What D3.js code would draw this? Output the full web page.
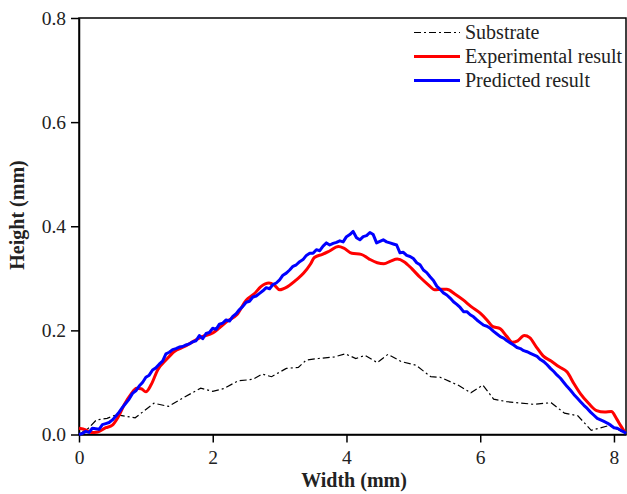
<!DOCTYPE html>
<html><head><meta charset="utf-8">
<script src="https://cdn.jsdelivr.net/npm/d3@7"></script>
<style>body{margin:0;background:#fff}svg{display:block}</style>
</head><body><svg id="c" width="627" height="494"></svg>
<script>
const xTicks=[0,2,4,6,8];
const yTicks=[0.0,0.2,0.4,0.6,0.8];
const seriesNames=["Substrate","Experimental result","Predicted result"];
const substrateX=[0.00,0.14,0.26,0.42,0.56,0.84,1.12,1.34,1.58,1.82,2.00,2.16,2.38,2.60,2.74,2.88,3.10,3.28,3.40,3.58,3.82,3.98,4.14,4.28,4.46,4.62,4.82,5.04,5.26,5.40,5.68,5.86,6.04,6.20,6.40,6.80,7.06,7.26,7.46,7.66,7.92,8.05,8.18];
const substrateY=[0.000,0.012,0.028,0.031,0.038,0.032,0.060,0.054,0.072,0.089,0.083,0.088,0.103,0.106,0.116,0.111,0.127,0.129,0.143,0.146,0.149,0.155,0.146,0.152,0.138,0.154,0.140,0.133,0.111,0.110,0.094,0.080,0.095,0.068,0.063,0.058,0.061,0.041,0.036,0.008,0.017,0.010,0.003];
const expX=[0.00,0.10,0.18,0.28,0.40,0.50,0.58,0.68,0.78,0.86,0.93,1.00,1.08,1.18,1.30,1.42,1.58,1.70,1.84,2.00,2.10,2.22,2.36,2.50,2.62,2.72,2.84,2.92,3.00,3.12,3.26,3.36,3.46,3.52,3.64,3.74,3.88,3.96,4.08,4.22,4.34,4.46,4.56,4.66,4.76,4.86,4.98,5.10,5.22,5.32,5.42,5.50,5.62,5.75,5.86,6.00,6.10,6.18,6.30,6.40,6.48,6.56,6.66,6.74,6.84,6.94,7.06,7.18,7.30,7.40,7.50,7.62,7.74,7.86,7.96,8.04,8.10,8.16];
const expY=[0.012,0.009,0.004,0.005,0.013,0.018,0.032,0.058,0.078,0.089,0.088,0.082,0.096,0.125,0.143,0.159,0.169,0.178,0.188,0.195,0.205,0.218,0.230,0.258,0.270,0.284,0.291,0.287,0.278,0.284,0.298,0.310,0.327,0.340,0.346,0.352,0.361,0.358,0.348,0.346,0.337,0.330,0.328,0.333,0.337,0.332,0.318,0.302,0.288,0.278,0.279,0.279,0.270,0.258,0.246,0.233,0.220,0.208,0.203,0.188,0.177,0.180,0.190,0.186,0.168,0.151,0.141,0.130,0.120,0.098,0.078,0.060,0.046,0.043,0.044,0.030,0.017,0.005];
const predX=[0.00,0.05,0.10,0.15,0.20,0.25,0.30,0.35,0.40,0.45,0.50,0.55,0.60,0.65,0.70,0.75,0.80,0.85,0.90,0.95,1.00,1.05,1.10,1.15,1.20,1.25,1.30,1.35,1.40,1.45,1.50,1.55,1.60,1.65,1.70,1.75,1.80,1.85,1.90,1.95,2.00,2.05,2.10,2.15,2.20,2.25,2.30,2.35,2.40,2.45,2.50,2.55,2.60,2.65,2.70,2.75,2.80,2.85,2.90,2.95,3.00,3.05,3.10,3.15,3.20,3.25,3.30,3.35,3.40,3.45,3.50,3.55,3.60,3.65,3.70,3.75,3.80,3.85,3.90,3.95,4.00,4.05,4.10,4.15,4.20,4.25,4.30,4.35,4.40,4.45,4.50,4.55,4.60,4.65,4.70,4.75,4.80,4.85,4.90,4.95,5.00,5.05,5.10,5.15,5.20,5.25,5.30,5.35,5.40,5.45,5.50,5.55,5.60,5.65,5.70,5.75,5.80,5.85,5.90,5.95,6.00,6.05,6.10,6.15,6.20,6.25,6.30,6.35,6.40,6.45,6.50,6.55,6.60,6.65,6.70,6.75,6.80,6.85,6.90,6.95,7.00,7.05,7.10,7.15,7.20,7.25,7.30,7.35,7.40,7.45,7.50,7.55,7.60,7.65,7.70,7.75,7.80,7.85,7.90,7.95,8.00,8.05,8.10,8.15,8.18];
const predY=[0.000,0.002,0.006,0.004,0.012,0.011,0.010,0.019,0.021,0.023,0.028,0.035,0.043,0.052,0.060,0.068,0.079,0.084,0.093,0.100,0.110,0.114,0.124,0.128,0.135,0.141,0.155,0.158,0.163,0.165,0.168,0.169,0.172,0.174,0.178,0.180,0.190,0.184,0.194,0.196,0.204,0.202,0.212,0.214,0.220,0.218,0.227,0.232,0.240,0.246,0.254,0.256,0.264,0.266,0.271,0.276,0.282,0.280,0.288,0.291,0.297,0.306,0.310,0.316,0.323,0.326,0.332,0.336,0.344,0.348,0.348,0.355,0.353,0.362,0.368,0.364,0.367,0.369,0.372,0.370,0.380,0.384,0.390,0.378,0.374,0.380,0.382,0.388,0.384,0.368,0.371,0.374,0.370,0.368,0.366,0.364,0.349,0.350,0.344,0.342,0.338,0.330,0.326,0.316,0.311,0.303,0.296,0.285,0.279,0.272,0.268,0.262,0.255,0.250,0.244,0.236,0.236,0.230,0.226,0.220,0.215,0.210,0.208,0.204,0.198,0.193,0.188,0.185,0.180,0.176,0.172,0.167,0.165,0.161,0.159,0.156,0.153,0.150,0.144,0.140,0.134,0.127,0.121,0.114,0.108,0.100,0.092,0.085,0.077,0.070,0.063,0.056,0.050,0.043,0.037,0.031,0.028,0.025,0.022,0.018,0.013,0.012,0.008,0.005,0.002];

const svg=d3.select("#c");
const L=79,R=626,T=18,B=434.5;
const x=d3.scaleLinear().domain([0,8.18]).range([L,R]);
const y=d3.scaleLinear().domain([0,0.8]).range([B,T]);
const font="'Liberation Serif','Times New Roman',serif";

const xa=svg.append("g").attr("transform",`translate(0,${B})`)
 .call(d3.axisBottom(x).tickValues(xTicks).tickFormat(d3.format("d")).tickSize(8).tickSizeOuter(0));
const ya=svg.append("g").attr("transform",`translate(${L},0)`)
 .call(d3.axisLeft(y).tickValues(yTicks).tickFormat(d3.format(".1f")).tickSize(8).tickSizeOuter(0));
[xa,ya].forEach(a=>{a.selectAll("path,line").attr("stroke","#000").attr("stroke-width",1.5);
 a.selectAll("text").attr("font-family",font).attr("font-size",19.5).attr("fill","#222");});
xa.selectAll("text").attr("dy","0.95em");
ya.selectAll("text").attr("dx","-0.1em");
svg.append("rect").attr("x",L).attr("y",T).attr("width",R-L).attr("height",B-T)
 .attr("fill","none").attr("stroke","#000").attr("stroke-width",1.5);

const mk=(xs,ys)=>xs.map((v,i)=>[v,ys[i]]);
const line=d3.line().x(d=>x(d[0])).y(d=>y(d[1]));
svg.append("path").datum(mk(substrateX,substrateY)).attr("d",line)
 .attr("fill","none").attr("stroke","#000").attr("stroke-width",1.2).attr("stroke-dasharray","7,3,2,3");
svg.append("path").datum(mk(expX,expY)).attr("d",line.curve(d3.curveMonotoneX))
 .attr("fill","none").attr("stroke","#ff0000").attr("stroke-width",3).attr("stroke-linejoin","round");
svg.append("path").datum(mk(predX,predY)).attr("d",d3.line().x(d=>x(d[0])).y(d=>y(d[1])))
 .attr("fill","none").attr("stroke","#0000ff").attr("stroke-width",3).attr("stroke-linejoin","round");

// legend
const colors=["#000","#ff0000","#0000ff"];
const lg=svg.append("g");
seriesNames.forEach((n,i)=>{
 const yy=32.5+i*24;
 lg.append("line").attr("x1",414).attr("x2",460).attr("y1",yy).attr("y2",yy)
  .attr("stroke",colors[i]).attr("stroke-width",i===0?1.2:3)
  .attr("stroke-dasharray",i===0?"7,3,2,3":null);
 lg.append("text").attr("x",465).attr("y",yy+6.5).text(n)
  .attr("font-family",font).attr("font-size",20).attr("fill","#222");
});
svg.append("text").attr("x",354).attr("y",487).attr("text-anchor","middle")
 .attr("font-family",font).attr("font-size",20).attr("font-weight","bold").attr("fill","#222").text("Width (mm)");
svg.append("text").attr("transform",`translate(24,215) rotate(-90)`).attr("text-anchor","middle")
 .attr("font-family",font).attr("font-size",20).attr("font-weight","bold").attr("fill","#222").text("Height (mm)");
</script></body></html>
